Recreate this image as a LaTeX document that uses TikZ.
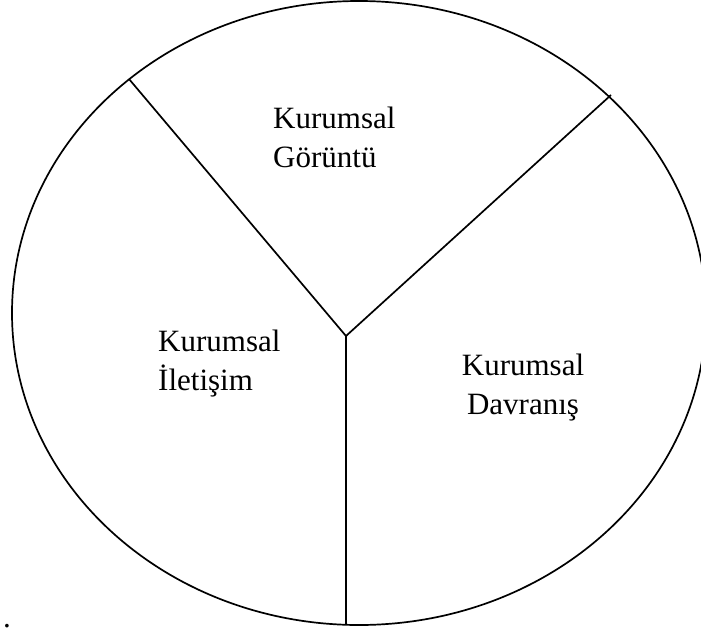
\documentclass[tikz,border=0pt]{standalone}
\usepackage{fontspec}
\setmainfont{Liberation Serif}
\usetikzlibrary{shapes.geometric}
\begin{document}
\begin{tikzpicture}[x=1pt,y=-1pt,
  lbl/.style={inner sep=0pt,font=\fontsize{31}{39}\selectfont},
  ln/.style={line width=1.7pt,black}]
\useasboundingbox (0,0) rectangle (701,635);
\node[draw,ln,ellipse,minimum width=694pt,minimum height=624pt,inner sep=0pt] (ell) at (359,313) {};
\coordinate (c) at (346,336);
\coordinate (ul) at (129,79);
\coordinate (ur) at (611,95);
\coordinate (bt) at (346,624);
\draw[ln] (ul) -- (c) -- (ur);
\draw[ln] (c) -- (bt);
\node[lbl,anchor=base west] (g1) at (273,128) {Kurumsal};
\node[lbl,anchor=base west] (g2) at (273,167) {Görüntü};
\node[lbl,anchor=base west] (i1) at (158,351) {Kurumsal};
\node[lbl,anchor=base west] (i2) at (158,390) {İletişim};
\node[lbl,anchor=base] (d1) at (523,375) {Kurumsal};
\node[lbl,anchor=base] (d2) at (523,414) {Davranış};
\node[lbl,anchor=base west] (dot) at (3,627) {.};
\end{tikzpicture}
\end{document}
